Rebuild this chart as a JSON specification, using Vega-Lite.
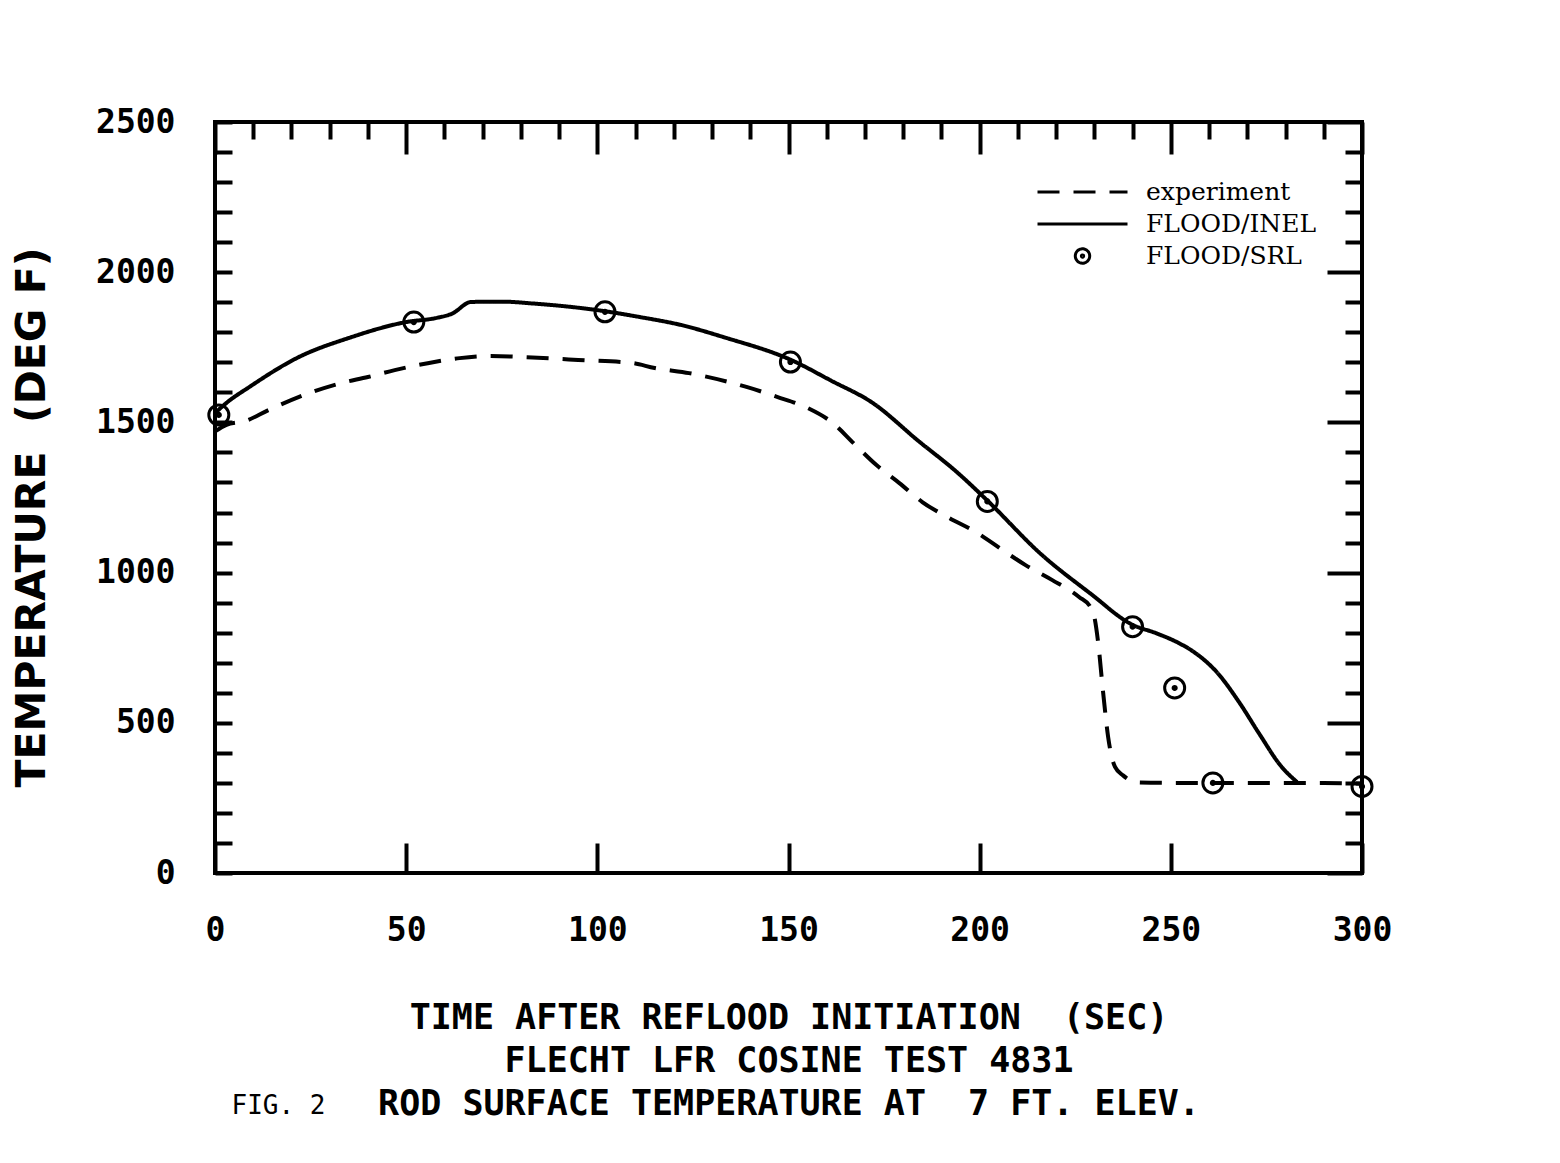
{
  "$schema": "https://vega.github.io/schema/vega-lite/v6.json",
  "width": 1147,
  "height": 751,
  "autosize": {"type": "none"},
  "padding": {"left": 215, "top": 122, "right": 198, "bottom": 290},
  "background": "white",
  "config": {
    "view": {"stroke": "black", "strokeWidth": 4},
    "axis": {"domain": false, "grid": false, "tickColor": "black", "tickWidth": 4, "labelColor": "black", "titleColor": "black", "labelFlush": false, "labelOverlap": false},
    "mark": {"color": "black"}
  },
  "datasets": {
    "curves": [
      {"series": "experiment", "t": 0, "T": 1470},
      {"series": "experiment", "t": 3, "T": 1492},
      {"series": "experiment", "t": 8, "T": 1505},
      {"series": "experiment", "t": 14, "T": 1541},
      {"series": "experiment", "t": 22, "T": 1585},
      {"series": "experiment", "t": 33, "T": 1631},
      {"series": "experiment", "t": 40, "T": 1651},
      {"series": "experiment", "t": 47, "T": 1674},
      {"series": "experiment", "t": 56, "T": 1698},
      {"series": "experiment", "t": 64, "T": 1714},
      {"series": "experiment", "t": 72, "T": 1721},
      {"series": "experiment", "t": 83, "T": 1716},
      {"series": "experiment", "t": 95, "T": 1708},
      {"series": "experiment", "t": 109, "T": 1698},
      {"series": "experiment", "t": 115, "T": 1681},
      {"series": "experiment", "t": 124, "T": 1664},
      {"series": "experiment", "t": 139, "T": 1618},
      {"series": "experiment", "t": 147, "T": 1585},
      {"series": "experiment", "t": 155, "T": 1548},
      {"series": "experiment", "t": 161.6, "T": 1498},
      {"series": "experiment", "t": 167, "T": 1431},
      {"series": "experiment", "t": 173, "T": 1358},
      {"series": "experiment", "t": 179, "T": 1298},
      {"series": "experiment", "t": 185, "T": 1235},
      {"series": "experiment", "t": 192, "T": 1182},
      {"series": "experiment", "t": 199, "T": 1135},
      {"series": "experiment", "t": 206, "T": 1075},
      {"series": "experiment", "t": 212, "T": 1025},
      {"series": "experiment", "t": 219, "T": 975},
      {"series": "experiment", "t": 226, "T": 919},
      {"series": "experiment", "t": 229, "T": 885},
      {"series": "experiment", "t": 230, "T": 852},
      {"series": "experiment", "t": 231, "T": 766},
      {"series": "experiment", "t": 232.3, "T": 600},
      {"series": "experiment", "t": 233.6, "T": 453},
      {"series": "experiment", "t": 235.4, "T": 353},
      {"series": "experiment", "t": 237.5, "T": 325},
      {"series": "experiment", "t": 241, "T": 302},
      {"series": "experiment", "t": 250, "T": 300},
      {"series": "experiment", "t": 260, "T": 300},
      {"series": "experiment", "t": 270, "T": 300},
      {"series": "experiment", "t": 280, "T": 300},
      {"series": "experiment", "t": 290, "T": 300},
      {"series": "experiment", "t": 300, "T": 297},
      {"series": "FLOOD/INEL", "t": 0, "T": 1531},
      {"series": "FLOOD/INEL", "t": 3, "T": 1565},
      {"series": "FLOOD/INEL", "t": 9, "T": 1618},
      {"series": "FLOOD/INEL", "t": 22, "T": 1718},
      {"series": "FLOOD/INEL", "t": 35, "T": 1781},
      {"series": "FLOOD/INEL", "t": 50, "T": 1834},
      {"series": "FLOOD/INEL", "t": 58, "T": 1848},
      {"series": "FLOOD/INEL", "t": 62, "T": 1862},
      {"series": "FLOOD/INEL", "t": 67, "T": 1901},
      {"series": "FLOOD/INEL", "t": 75, "T": 1902},
      {"series": "FLOOD/INEL", "t": 83, "T": 1896},
      {"series": "FLOOD/INEL", "t": 101.5, "T": 1871},
      {"series": "FLOOD/INEL", "t": 111, "T": 1851},
      {"series": "FLOOD/INEL", "t": 122, "T": 1824},
      {"series": "FLOOD/INEL", "t": 133, "T": 1784},
      {"series": "FLOOD/INEL", "t": 151, "T": 1706},
      {"series": "FLOOD/INEL", "t": 161, "T": 1640},
      {"series": "FLOOD/INEL", "t": 172, "T": 1565},
      {"series": "FLOOD/INEL", "t": 184, "T": 1438},
      {"series": "FLOOD/INEL", "t": 194, "T": 1335},
      {"series": "FLOOD/INEL", "t": 202, "T": 1240},
      {"series": "FLOOD/INEL", "t": 216, "T": 1062},
      {"series": "FLOOD/INEL", "t": 229, "T": 930},
      {"series": "FLOOD/INEL", "t": 240, "T": 826},
      {"series": "FLOOD/INEL", "t": 246, "T": 799},
      {"series": "FLOOD/INEL", "t": 252, "T": 766},
      {"series": "FLOOD/INEL", "t": 256, "T": 736},
      {"series": "FLOOD/INEL", "t": 262, "T": 669},
      {"series": "FLOOD/INEL", "t": 268, "T": 566},
      {"series": "FLOOD/INEL", "t": 273, "T": 466},
      {"series": "FLOOD/INEL", "t": 279, "T": 353},
      {"series": "FLOOD/INEL", "t": 283, "T": 303}
    ],
    "srl": [
      {"series": "FLOOD/SRL", "t": 1, "T": 1525},
      {"series": "FLOOD/SRL", "t": 52, "T": 1834},
      {"series": "FLOOD/SRL", "t": 102, "T": 1868},
      {"series": "FLOOD/SRL", "t": 150.5, "T": 1701},
      {"series": "FLOOD/SRL", "t": 202, "T": 1237},
      {"series": "FLOOD/SRL", "t": 240, "T": 820},
      {"series": "FLOOD/SRL", "t": 251, "T": 616},
      {"series": "FLOOD/SRL", "t": 261, "T": 300},
      {"series": "FLOOD/SRL", "t": 300, "T": 288}
    ]
  },
  "resolve": {"axis": {"x": "independent", "y": "independent"}},
  "layer": [
    {
      "data": {"name": "curves"},
      "mark": {"type": "line", "interpolate": "monotone", "strokeWidth": 4, "color": "black", "strokeCap": "butt"},
      "encoding": {
        "x": {
          "field": "t", "type": "quantitative",
          "scale": {"domain": [0, 300], "nice": false, "zero": false},
          "axis": {
            "orient": "bottom",
            "values": [0, 50, 100, 150, 200, 250, 300],
            "tickSize": -30,
            "labelPadding": 71,
            "labelFont": "DejaVu Sans Mono", "labelFontSize": 33, "labelFontWeight": "bold",
            "title": ["TIME AFTER REFLOOD INITIATION\u00a0\u00a0(SEC)", "FLECHT LFR COSINE TEST 4831", "ROD SURFACE TEMPERATURE AT\u00a0\u00a07 FT. ELEV."],
            "titleFont": "DejaVu Sans Mono", "titleFontSize": 35, "titleFontWeight": "bold",
            "titleLineHeight": 43,
            "titleBaseline": "alphabetic",
            "titleY": 155
          }
        },
        "y": {
          "field": "T", "type": "quantitative",
          "scale": {"domain": [0, 2500], "nice": false},
          "axis": {
            "orient": "left",
            "values": [0,100,200,300,400,500,600,700,800,900,1000,1100,1200,1300,1400,1500,1600,1700,1800,1900,2000,2100,2200,2300,2400,2500],
            "format": "d",
            "tickSize": -17,
            "labelPadding": 57,
            "labelExpr": "datum.value % 500 === 0 ? datum.label : ''",
            "labelFont": "DejaVu Sans Mono", "labelFontSize": 33, "labelFontWeight": "bold",
            "title": "TEMPERATURE\u00a0\u00a0(DEG F)",
            "titleFont": "DejaVu Sans", "titleFontSize": 41, "titleFontWeight": "bold",
            "titleAlign": "center", "titleBaseline": "middle",
            "titleX": -183, "titleY": 395
          }
        },
        "strokeDash": {
          "field": "series", "type": "nominal",
          "scale": {"domain": ["experiment", "FLOOD/INEL", "FLOOD/SRL"], "range": [[22, 14], [1, 0], [1, 0]]},
          "legend": {
            "orient": "none", "legendX": 821, "legendY": 54,
            "title": null, "padding": 0, "rowPadding": 0, "clipHeight": 32,
            "labelFont": "DejaVu Serif", "labelFontSize": 25, "labelColor": "black", "labelOffset": 17, "labelLimit": 400,
            "symbolSize": 8100, "symbolStrokeWidth": 3, "symbolStrokeColor": "black", "symbolFillColor": "transparent"
          }
        }
      }
    },
    {
      "data": {"name": "srl"},
      "mark": {"type": "point", "filled": false, "color": "black", "strokeWidth": 3, "opacity": 1, "size": 15625},
      "encoding": {
        "x": {
          "field": "t", "type": "quantitative",
          "scale": {"domain": [0, 300], "nice": false, "zero": false},
          "axis": {
            "orient": "top",
            "values": [0,10,20,30,40,50,60,70,80,90,100,110,120,130,140,150,160,170,180,190,200,210,220,230,240,250,260,270,280,290,300],
            "tickSize": {"condition": {"test": "datum.value % 50 === 0", "value": -32}, "value": -17},
            "labels": false,
            "title": "FIG. 2",
            "titleFont": "DejaVu Sans Mono", "titleFontSize": 26, "titleFontWeight": "normal",
            "titleAngle": 0, "titleAlign": "center", "titleBaseline": "alphabetic",
            "titleX": 63, "titleY": 991
          }
        },
        "y": {
          "field": "T", "type": "quantitative",
          "scale": {"domain": [0, 2500], "nice": false},
          "axis": {
            "orient": "right",
            "values": [0,100,200,300,400,500,600,700,800,900,1000,1100,1200,1300,1400,1500,1600,1700,1800,1900,2000,2100,2200,2300,2400,2500],
            "tickSize": {"condition": {"test": "datum.value % 500 === 0", "value": -35}, "value": -17},
            "labels": false,
            "title": null
          }
        },
        "shape": {
          "field": "series", "type": "nominal",
          "scale": {
            "domain": ["experiment", "FLOOD/INEL", "FLOOD/SRL"],
            "range": ["stroke", "stroke", "M-0.16,0A0.16,0.16 0 1,0 0.16,0A0.16,0.16 0 1,0 -0.16,0ZM-0.025,0A0.025,0.025 0 1,0 0.025,0A0.025,0.025 0 1,0 -0.025,0Z"]
          },
          "legend": {
            "orient": "none", "legendX": 821, "legendY": 54,
            "title": null, "padding": 0, "rowPadding": 0, "clipHeight": 32,
            "labelFont": "DejaVu Serif", "labelFontSize": 25, "labelColor": "black", "labelOffset": 17, "labelLimit": 400,
            "symbolSize": 8100, "symbolStrokeWidth": 3, "symbolStrokeColor": "black", "symbolFillColor": "transparent"
          }
        }
      }
    }
  ]
}
